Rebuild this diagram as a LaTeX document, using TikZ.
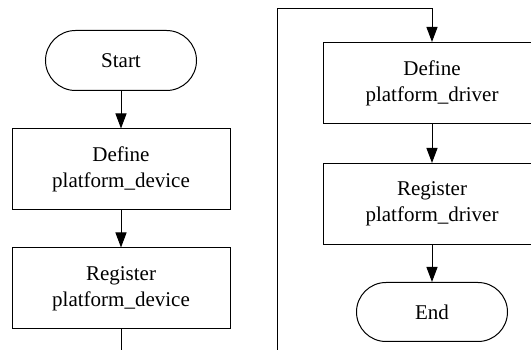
\documentclass[tikz,border=0pt]{standalone}
\usepackage{fontspec}
\setmainfont{Liberation Serif}
\usetikzlibrary{arrows.meta,shapes.misc}
\begin{document}
\begin{tikzpicture}[x=1pt,y=-1pt,
  every node/.style={font=\fontsize{21}{26}\selectfont, align=center, inner sep=0pt, line width=1pt},
  procbox/.style={draw, rectangle, minimum width=218pt, minimum height=81pt},
  termbox/.style={draw, rounded rectangle, minimum width=151pt, minimum height=60pt},
  flow/.style={line width=1pt, -{Triangle[length=15pt,width=11pt]}},
  plain/.style={line width=1pt}]
\clip (0,0) rectangle (531,350);
\useasboundingbox (0,0) rectangle (531,350);
\node[termbox] (start) at (121,60.5) {Start};
\node[procbox] (def1) at (121,169.5) {Define\\platform\_device};
\node[procbox] (reg1) at (121,288.5) {Register\\platform\_device};
\node[procbox] (def2) at (432,83) {Define\\platform\_driver};
\node[procbox] (reg2) at (432,204) {Register\\platform\_driver};
\node[termbox, minimum height=59pt] (end) at (432,312) {End};
\coordinate (cut1) at (121,360);
\coordinate (cut2) at (277,360);
\coordinate (top) at (277,9);
\draw[flow] (start) -- (def1);
\draw[flow] (def1) -- (reg1);
\draw[plain] (reg1) -- (cut1);
\draw[flow] (cut2) -- (top) -| (def2.north);
\draw[flow] (def2) -- (reg2);
\draw[flow] (reg2) -- (end);
\end{tikzpicture}
\end{document}
